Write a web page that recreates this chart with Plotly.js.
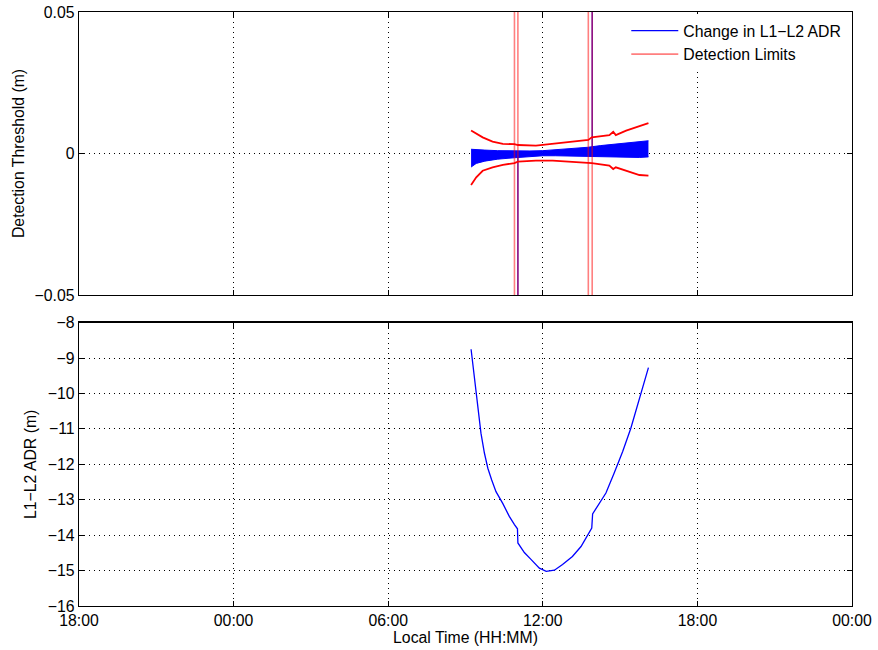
<!DOCTYPE html>
<html>
<head>
<meta charset="utf-8">
<script src="https://cdn.plot.ly/plotly-3.0.1.min.js"></script>
<style>html,body{margin:0;padding:0;background:#fff;}#chart{width:878px;height:650px;}</style>
</head>
<body>
<div id="chart"></div>
<script>
// ---- data (local time, all on the same day) ----
var DAY = '2013-01-02 ';
var axisStart = '2013-01-01 18:00';
var axisEnd = '2013-01-03 00:00';

// noise envelope of the change in L1-L2 ADR (m)
var bandTimes = ['09:13','09:25','09:45','10:15','10:54','11:30','12:00','12:30','13:00','13:45','14:15','14:45','15:15','15:45','16:06'];
var bandHi    = [0.0015,0.0013,0.0012,0.0010,0.0009,0.0009,0.0010,0.0013,0.0016,0.0022,0.0028,0.0033,0.0037,0.0041,0.0045];
var bandLo    = [-0.0048,-0.0035,-0.0027,-0.0020,-0.0015,-0.0010,-0.0008,-0.0008,-0.0009,-0.0010,-0.0012,-0.0014,-0.0015,-0.0014,-0.0012];

// cycle-slip jumps in the change of L1-L2 ADR (m)
var jumpTimes  = ['11:02','13:55'];
var jumpValues = [-0.40, 0.42];

// detection limits (m)
var limitTimes = ['09:13','09:25','09:40','10:03','10:27','10:54','11:02','11:44','12:23','13:02','13:46','13:54','14:35','14:44','14:50','15:14','15:45','16:06'];
var upperLimit = [0.0081,0.0069,0.0057,0.0042,0.0034,0.0033,0.0030,0.0028,0.0034,0.0040,0.0048,0.0057,0.0065,0.0077,0.0065,0.0081,0.0096,0.0107];
var lowerLimit = [-0.0111,-0.0084,-0.0061,-0.0049,-0.0040,-0.0034,-0.0029,-0.0025,-0.0025,-0.0029,-0.0031,-0.0034,-0.0043,-0.0055,-0.0049,-0.0061,-0.0076,-0.0078];
// limits leave the plot at each slip
var slipStart = ['10:54','13:46'];
var slipEnd   = ['11:02','13:55'];
var slipLevel = 1.0;

// L1-L2 ADR (m)
var adrTimes = ['09:13','09:21','09:29','09:36','09:44','09:52','10:01','10:11','10:27','10:42','10:54','11:01','11:02','11:17','11:33','11:52','12:08','12:27','12:46','13:09','13:29','13:44','13:54','13:56','14:15','14:27','14:46','15:06','15:25','15:45','15:56','16:06'];
var adrValues = [-8.75,-9.52,-10.37,-11.12,-11.68,-12.11,-12.44,-12.77,-13.11,-13.47,-13.70,-13.82,-14.22,-14.49,-14.69,-14.93,-15.02,-14.99,-14.83,-14.60,-14.32,-14.03,-13.80,-13.40,-13.05,-12.81,-12.25,-11.64,-10.98,-10.18,-9.71,-9.27];

// ---- build traces ----
function t(arr){ return arr.map(function(s){ return DAY + s; }); }

var jx = [], jy = [];
jumpTimes.forEach(function(s, i){ jx.push(DAY+s, DAY+s, null); jy.push(0, jumpValues[i], null); });

var sx = [], sy = [];
slipStart.forEach(function(s, i){
  sx.push(DAY+s, DAY+s, null, DAY+slipEnd[i], DAY+slipEnd[i], null);
  sy.push(-slipLevel, slipLevel, null, -slipLevel, slipLevel, null);
});

var font = {family: '"Liberation Sans", Arial, Helvetica, sans-serif', size: 15.8, color: '#000'};

var traces = [
  {x: t(bandTimes), y: bandHi, type: 'scatter', mode: 'lines', line: {color: '#0000ff', width: 1}, showlegend: false, hoverinfo: 'skip', xaxis: 'x', yaxis: 'y'},
  {x: t(bandTimes), y: bandLo, type: 'scatter', mode: 'lines', fill: 'tonexty', fillcolor: '#0000ff', line: {color: '#0000ff', width: 1}, showlegend: false, xaxis: 'x', yaxis: 'y'},
  {x: jx, y: jy, type: 'scatter', mode: 'lines', name: 'Change in L1\u2212L2 ADR', line: {color: '#0000ff', width: 1.3}, xaxis: 'x', yaxis: 'y'},
  {x: t(limitTimes), y: upperLimit, type: 'scatter', mode: 'lines', line: {color: '#ff0000', width: 1.8}, showlegend: false, legendgroup: 'lim', xaxis: 'x', yaxis: 'y'},
  {x: t(limitTimes), y: lowerLimit, type: 'scatter', mode: 'lines', line: {color: '#ff0000', width: 1.8}, showlegend: false, legendgroup: 'lim', xaxis: 'x', yaxis: 'y'},
  {x: sx, y: sy, type: 'scatter', mode: 'lines', name: 'Detection Limits', legendgroup: 'lim', line: {color: 'rgba(255,0,0,0.5)', width: 1.6}, connectgaps: false, xaxis: 'x', yaxis: 'y'},
  {x: t(adrTimes), y: adrValues, type: 'scatter', mode: 'lines', line: {color: '#0000ff', width: 1.3}, showlegend: false, xaxis: 'x2', yaxis: 'y2'}
];

function xax(extra){
  var a = {
    type: 'date', range: [axisStart, axisEnd], tick0: axisStart, dtick: 6*3600*1000,
    tickformat: '%H:%M', ticks: 'inside', ticklen: 5, tickwidth: 1, tickcolor: '#000',
    showline: true, linecolor: '#000', linewidth: 1.3, mirror: 'ticks',
    showgrid: true, gridcolor: '#000', gridwidth: 1, griddash: '1px,4px', zeroline: false,
    tickfont: font, fixedrange: true
  };
  for (var k in extra) a[k] = extra[k];
  return a;
}
function yax(extra){
  var a = {
    ticks: 'inside', ticklen: 5, tickwidth: 1, tickcolor: '#000',
    showline: true, linecolor: '#000', linewidth: 1.3, mirror: 'ticks',
    showgrid: true, gridcolor: '#000', gridwidth: 1, griddash: '1px,4px', zeroline: false,
    tickfont: font, fixedrange: true
  };
  for (var k in extra) a[k] = extra[k];
  return a;
}

var layout = {
  width: 878, height: 650,
  margin: {l: 79, r: 26, t: 12, b: 44},
  paper_bgcolor: '#fff', plot_bgcolor: '#fff',
  font: font,
  showlegend: true,
  legend: {x: 0.708, xanchor: 'left', y: 0.997, yanchor: 'top', bgcolor: '#fff', borderwidth: 0,
           font: font, itemwidth: 47, tracegroupgap: 0},
  xaxis: xax({anchor: 'y', domain: [0, 1], showticklabels: false}),
  xaxis2: xax({anchor: 'y2', domain: [0, 1], matches: 'x',
               title: {text: 'Local Time (HH:MM)', font: font, standoff: 2}}),
  yaxis: yax({anchor: 'x', domain: [0.5236, 1], range: [-0.05, 0.05], tickvals: [-0.05, 0, 0.05],
              title: {text: 'Detection Threshold (m)', font: font, standoff: 6}}),
  yaxis2: yax({anchor: 'x2', domain: [0, 0.477], range: [-16, -8], tick0: -16, dtick: 1,
               title: {text: 'L1\u2212L2 ADR (m)', font: font, standoff: 7}})
};

Plotly.newPlot('chart', traces, layout, {displayModeBar: false, staticPlot: true});
</script>
</body>
</html>
